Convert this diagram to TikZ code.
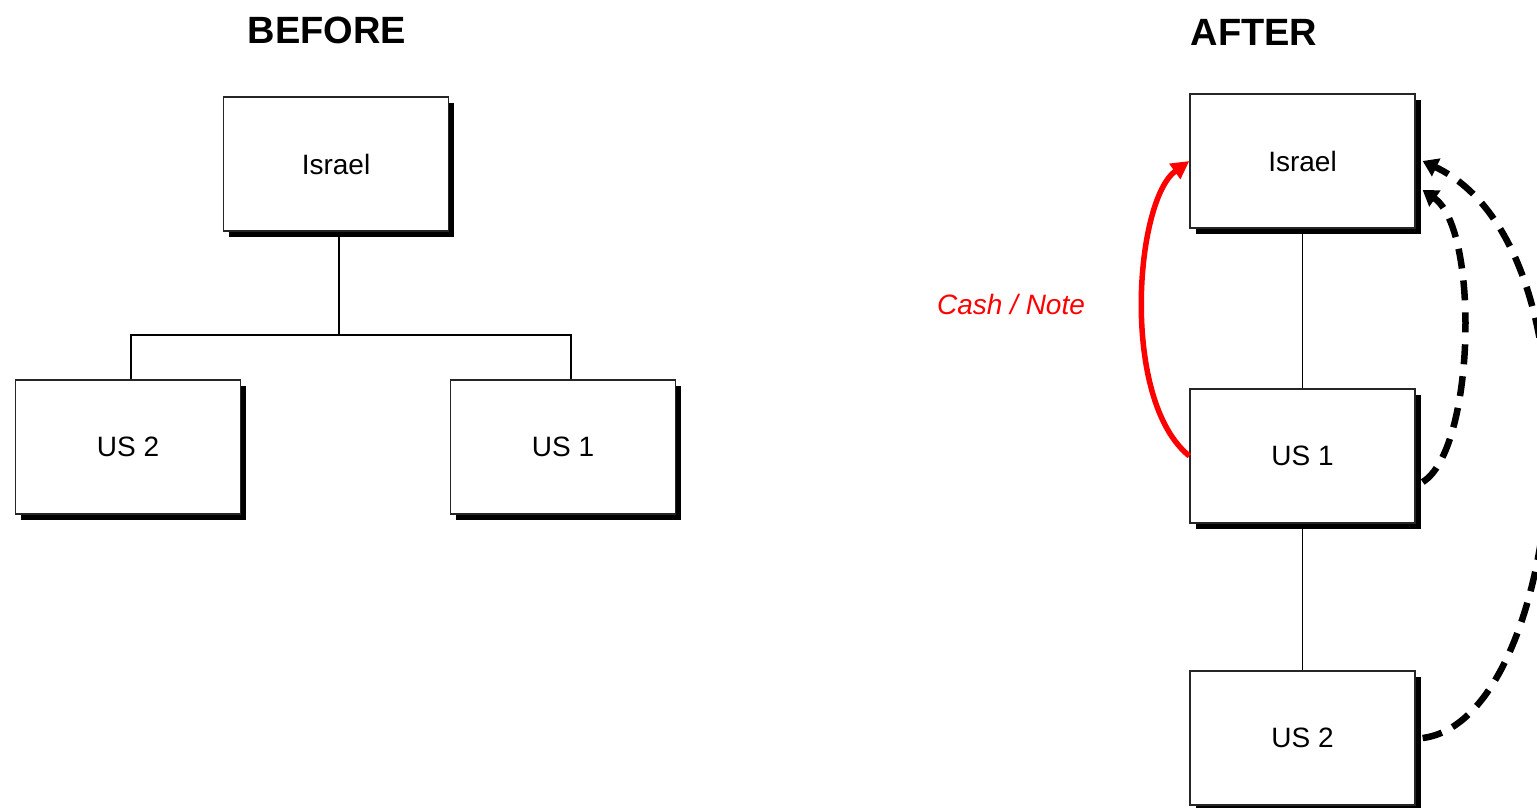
\documentclass[tikz,border=0pt]{standalone}
\usepackage{fontspec}
\setmainfont{Liberation Sans}
\usetikzlibrary{arrows.meta,shadows}
\begin{document}
\begin{tikzpicture}[x=1pt,y=-1pt,
  entity/.style={draw=black!85,line width=1.3pt,fill=white,minimum width=225pt,minimum height=134pt,
    inner sep=0pt,font=\fontsize{28}{32}\selectfont,
    drop shadow={shadow xshift=5.5pt,shadow yshift=-5.5pt,fill=black,opacity=1}},
  title/.style={font=\fontsize{38}{42}\selectfont\bfseries},
  tree/.style={line width=1.6pt,black},
  cashflow/.style={red,line width=5.5pt,-{Triangle[length=18pt,width=18pt]}},
  noteflow/.style={black,line width=6.5pt,dash pattern=on 20pt off 12pt,-{Triangle[length=15pt,width=19pt]}},
  lbl/.style={font=\fontsize{28}{32}\selectfont\itshape,text=red}]
\useasboundingbox (0,0) rectangle (1537,807);
% BEFORE
\node[title] (tb) at (327,30) {BEFORE};
\node[entity] (bIsrael) at (336,164) {Israel};
\node[entity] (bUS2) at (128,447) {US 2};
\node[entity] (bUS1) at (563,447) {US 1};
\coordinate (bj) at (339,335);
\draw[tree] ([xshift=3pt,yshift=-5.5pt]bIsrael.south) -- (bj);
\draw[tree] ([xshift=3pt]bUS2.north) |- (bj) -| ([xshift=8pt]bUS1.north);
% AFTER
\node[title] (ta) at (1254,32) {AFTER};
\node[entity] (aIsrael) at (1302.5,161) {Israel};
\node[entity] (aUS1) at (1302.5,456) {US 1};
\node[entity] (aUS2) at (1302.5,738) {US 2};
\draw[tree] ([yshift=-5.5pt]aIsrael.south) -- (aUS1.north);
\draw[tree] ([yshift=-5.5pt]aUS1.south) -- (aUS2.north);
\draw[cashflow] (aUS1.west) .. controls (1120,400) and (1135,200) .. (aIsrael.west);
\node[lbl] (cash) at (1011,304) {Cash / Note};
\draw[noteflow] ([xshift=7pt,yshift=-26pt]aUS1.east) .. controls (1475,450) and (1480,230) .. ([xshift=7pt,yshift=-29pt]aIsrael.east);
\draw[noteflow] ([xshift=7pt]aUS2.east) .. controls (1565,720) and (1610,250) .. ([xshift=7pt]aIsrael.east);
\end{tikzpicture}
\end{document}
